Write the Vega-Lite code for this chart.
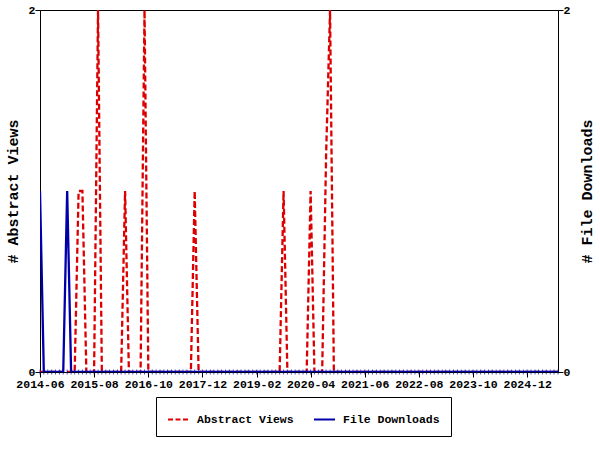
{
  "$schema": "https://vega.github.io/schema/vega-lite/v6.json",
  "width": 518,
  "height": 362,
  "autosize": "none",
  "padding": {"left": 40, "top": 10, "right": 42, "bottom": 78},
  "background": "white",
  "config": {
    "view": {"stroke": "black", "strokeWidth": 1},
    "axis": {
      "labelFont": "Liberation Mono", "labelFontWeight": "bold", "labelFontSize": 11.5, "labelColor": "black",
      "titleFont": "Liberation Mono", "titleFontWeight": "bold", "titleFontSize": 15, "titleColor": "black",
      "domainColor": "black", "tickColor": "black", "grid": false, "tickSize": 5, "labelPadding": 1
    },
    "legend": {
      "labelFont": "Liberation Mono", "labelFontWeight": "bold", "labelFontSize": 11.5, "labelColor": "black"
    }
  },
  "data": {"values": [
    {"month": "2014-06-01", "views": 0, "downloads": 1},
    {"month": "2014-07-01", "views": 0, "downloads": 0},
    {"month": "2014-08-01", "views": 0, "downloads": 0},
    {"month": "2014-09-01", "views": 0, "downloads": 0},
    {"month": "2014-10-01", "views": 0, "downloads": 0},
    {"month": "2014-11-01", "views": 0, "downloads": 0},
    {"month": "2014-12-01", "views": 0, "downloads": 0},
    {"month": "2015-01-01", "views": 0, "downloads": 1},
    {"month": "2015-02-01", "views": 0, "downloads": 0},
    {"month": "2015-03-01", "views": 0, "downloads": 0},
    {"month": "2015-04-01", "views": 1, "downloads": 0},
    {"month": "2015-05-01", "views": 1, "downloads": 0},
    {"month": "2015-06-01", "views": 0, "downloads": 0},
    {"month": "2015-07-01", "views": 0, "downloads": 0},
    {"month": "2015-08-01", "views": 0, "downloads": 0},
    {"month": "2015-09-01", "views": 2, "downloads": 0},
    {"month": "2015-10-01", "views": 0, "downloads": 0},
    {"month": "2015-11-01", "views": 0, "downloads": 0},
    {"month": "2015-12-01", "views": 0, "downloads": 0},
    {"month": "2016-01-01", "views": 0, "downloads": 0},
    {"month": "2016-02-01", "views": 0, "downloads": 0},
    {"month": "2016-03-01", "views": 0, "downloads": 0},
    {"month": "2016-04-01", "views": 1, "downloads": 0},
    {"month": "2016-05-01", "views": 0, "downloads": 0},
    {"month": "2016-06-01", "views": 0, "downloads": 0},
    {"month": "2016-07-01", "views": 0, "downloads": 0},
    {"month": "2016-08-01", "views": 0, "downloads": 0},
    {"month": "2016-09-01", "views": 2, "downloads": 0},
    {"month": "2016-10-01", "views": 0, "downloads": 0},
    {"month": "2016-11-01", "views": 0, "downloads": 0},
    {"month": "2016-12-01", "views": 0, "downloads": 0},
    {"month": "2017-01-01", "views": 0, "downloads": 0},
    {"month": "2017-02-01", "views": 0, "downloads": 0},
    {"month": "2017-03-01", "views": 0, "downloads": 0},
    {"month": "2017-04-01", "views": 0, "downloads": 0},
    {"month": "2017-05-01", "views": 0, "downloads": 0},
    {"month": "2017-06-01", "views": 0, "downloads": 0},
    {"month": "2017-07-01", "views": 0, "downloads": 0},
    {"month": "2017-08-01", "views": 0, "downloads": 0},
    {"month": "2017-09-01", "views": 0, "downloads": 0},
    {"month": "2017-10-01", "views": 1, "downloads": 0},
    {"month": "2017-11-01", "views": 0, "downloads": 0},
    {"month": "2017-12-01", "views": 0, "downloads": 0},
    {"month": "2018-01-01", "views": 0, "downloads": 0},
    {"month": "2018-02-01", "views": 0, "downloads": 0},
    {"month": "2018-03-01", "views": 0, "downloads": 0},
    {"month": "2018-04-01", "views": 0, "downloads": 0},
    {"month": "2018-05-01", "views": 0, "downloads": 0},
    {"month": "2018-06-01", "views": 0, "downloads": 0},
    {"month": "2018-07-01", "views": 0, "downloads": 0},
    {"month": "2018-08-01", "views": 0, "downloads": 0},
    {"month": "2018-09-01", "views": 0, "downloads": 0},
    {"month": "2018-10-01", "views": 0, "downloads": 0},
    {"month": "2018-11-01", "views": 0, "downloads": 0},
    {"month": "2018-12-01", "views": 0, "downloads": 0},
    {"month": "2019-01-01", "views": 0, "downloads": 0},
    {"month": "2019-02-01", "views": 0, "downloads": 0},
    {"month": "2019-03-01", "views": 0, "downloads": 0},
    {"month": "2019-04-01", "views": 0, "downloads": 0},
    {"month": "2019-05-01", "views": 0, "downloads": 0},
    {"month": "2019-06-01", "views": 0, "downloads": 0},
    {"month": "2019-07-01", "views": 0, "downloads": 0},
    {"month": "2019-08-01", "views": 0, "downloads": 0},
    {"month": "2019-09-01", "views": 1, "downloads": 0},
    {"month": "2019-10-01", "views": 0, "downloads": 0},
    {"month": "2019-11-01", "views": 0, "downloads": 0},
    {"month": "2019-12-01", "views": 0, "downloads": 0},
    {"month": "2020-01-01", "views": 0, "downloads": 0},
    {"month": "2020-02-01", "views": 0, "downloads": 0},
    {"month": "2020-03-01", "views": 0, "downloads": 0},
    {"month": "2020-04-01", "views": 1, "downloads": 0},
    {"month": "2020-05-01", "views": 0, "downloads": 0},
    {"month": "2020-06-01", "views": 0, "downloads": 0},
    {"month": "2020-07-01", "views": 0, "downloads": 0},
    {"month": "2020-08-01", "views": 1.2, "downloads": 0},
    {"month": "2020-09-01", "views": 2, "downloads": 0},
    {"month": "2020-10-01", "views": 0, "downloads": 0},
    {"month": "2020-11-01", "views": 0, "downloads": 0},
    {"month": "2020-12-01", "views": 0, "downloads": 0},
    {"month": "2021-01-01", "views": 0, "downloads": 0},
    {"month": "2021-02-01", "views": 0, "downloads": 0},
    {"month": "2021-03-01", "views": 0, "downloads": 0},
    {"month": "2021-04-01", "views": 0, "downloads": 0},
    {"month": "2021-05-01", "views": 0, "downloads": 0},
    {"month": "2021-06-01", "views": 0, "downloads": 0},
    {"month": "2021-07-01", "views": 0, "downloads": 0},
    {"month": "2021-08-01", "views": 0, "downloads": 0},
    {"month": "2021-09-01", "views": 0, "downloads": 0},
    {"month": "2021-10-01", "views": 0, "downloads": 0},
    {"month": "2021-11-01", "views": 0, "downloads": 0},
    {"month": "2021-12-01", "views": 0, "downloads": 0},
    {"month": "2022-01-01", "views": 0, "downloads": 0},
    {"month": "2022-02-01", "views": 0, "downloads": 0},
    {"month": "2022-03-01", "views": 0, "downloads": 0},
    {"month": "2022-04-01", "views": 0, "downloads": 0},
    {"month": "2022-05-01", "views": 0, "downloads": 0},
    {"month": "2022-06-01", "views": 0, "downloads": 0},
    {"month": "2022-07-01", "views": 0, "downloads": 0},
    {"month": "2022-08-01", "views": 0, "downloads": 0},
    {"month": "2022-09-01", "views": 0, "downloads": 0},
    {"month": "2022-10-01", "views": 0, "downloads": 0},
    {"month": "2022-11-01", "views": 0, "downloads": 0},
    {"month": "2022-12-01", "views": 0, "downloads": 0},
    {"month": "2023-01-01", "views": 0, "downloads": 0},
    {"month": "2023-02-01", "views": 0, "downloads": 0},
    {"month": "2023-03-01", "views": 0, "downloads": 0},
    {"month": "2023-04-01", "views": 0, "downloads": 0},
    {"month": "2023-05-01", "views": 0, "downloads": 0},
    {"month": "2023-06-01", "views": 0, "downloads": 0},
    {"month": "2023-07-01", "views": 0, "downloads": 0},
    {"month": "2023-08-01", "views": 0, "downloads": 0},
    {"month": "2023-09-01", "views": 0, "downloads": 0},
    {"month": "2023-10-01", "views": 0, "downloads": 0},
    {"month": "2023-11-01", "views": 0, "downloads": 0},
    {"month": "2023-12-01", "views": 0, "downloads": 0},
    {"month": "2024-01-01", "views": 0, "downloads": 0},
    {"month": "2024-02-01", "views": 0, "downloads": 0},
    {"month": "2024-03-01", "views": 0, "downloads": 0},
    {"month": "2024-04-01", "views": 0, "downloads": 0},
    {"month": "2024-05-01", "views": 0, "downloads": 0},
    {"month": "2024-06-01", "views": 0, "downloads": 0},
    {"month": "2024-07-01", "views": 0, "downloads": 0},
    {"month": "2024-08-01", "views": 0, "downloads": 0},
    {"month": "2024-09-01", "views": 0, "downloads": 0},
    {"month": "2024-10-01", "views": 0, "downloads": 0},
    {"month": "2024-11-01", "views": 0, "downloads": 0},
    {"month": "2024-12-01", "views": 0, "downloads": 0},
    {"month": "2025-01-01", "views": 0, "downloads": 0},
    {"month": "2025-02-01", "views": 0, "downloads": 0},
    {"month": "2025-03-01", "views": 0, "downloads": 0},
    {"month": "2025-04-01", "views": 0, "downloads": 0},
    {"month": "2025-05-01", "views": 0, "downloads": 0},
    {"month": "2025-06-01", "views": 0, "downloads": 0},
    {"month": "2025-07-01", "views": 0, "downloads": 0},
    {"month": "2025-08-01", "views": 0, "downloads": 0}
  ]},
  "encoding": {
    "x": {
      "field": "month", "type": "temporal",
      "scale": {"type": "utc", "domain": [
        {"year": 2014, "month": 6, "date": 1, "utc": true},
        {"year": 2025, "month": 8, "date": 1, "utc": true}
      ]},
      "axis": {
        "title": null, "labelExpr": "utcFormat(datum.value, '%Y-%m')", "labelFlush": false, "labelOverlap": false,
        "values": [
          {"year": 2014, "month": 6, "date": 1, "utc": true},
          {"year": 2015, "month": 8, "date": 1, "utc": true},
          {"year": 2016, "month": 10, "date": 1, "utc": true},
          {"year": 2017, "month": 12, "date": 1, "utc": true},
          {"year": 2019, "month": 2, "date": 1, "utc": true},
          {"year": 2020, "month": 4, "date": 1, "utc": true},
          {"year": 2021, "month": 6, "date": 1, "utc": true},
          {"year": 2022, "month": 8, "date": 1, "utc": true},
          {"year": 2023, "month": 10, "date": 1, "utc": true},
          {"year": 2024, "month": 12, "date": 1, "utc": true}
        ]
      }
    }
  },
  "layer": [
    {
      "mark": {"type": "line", "strokeDash": [6, 3], "strokeWidth": 2.3, "clip": true},
      "encoding": {
        "y": {
          "field": "views", "type": "quantitative",
          "scale": {"domain": [0, 2], "nice": false, "zero": true},
          "axis": {"orient": "left", "values": [0, 2], "format": "d", "title": "# Abstract Views", "titlePadding": 8, "labelPadding": 0}
        },
        "color": {
          "datum": "Abstract Views",
          "scale": {"domain": ["Abstract Views", "File Downloads"], "range": ["#dd0000", "#0000aa"]},
          "legend": {
            "title": null, "orient": "none", "legendX": 116, "legendY": 387, "direction": "horizontal",
            "symbolType": "stroke", "symbolSize": 441, "symbolStrokeWidth": 2,
            "strokeColor": "black", "padding": 11, "columnPadding": 16, "labelOffset": 7,
            "fillColor": "white",
            "encode": {"symbols": {"update": {"strokeDash": {"signal": "datum.value === 'Abstract Views' ? [5, 2.5] : [1, 0]"}}}}
          }
        }
      }
    },
    {
      "layer": [
        {
          "mark": {"type": "line", "strokeWidth": 2.3, "clip": true},
          "encoding": {
            "y": {
              "field": "downloads", "type": "quantitative",
              "scale": {"domain": [0, 2], "nice": false, "zero": true},
              "axis": {"orient": "right", "values": [0, 2], "format": "d", "title": "# File Downloads", "titleAngle": 270, "titlePadding": 25, "labelPadding": 0}
            },
            "color": {"datum": "File Downloads"}
          }
        },
        {
          "mark": {"type": "tick", "orient": "vertical", "size": 5, "thickness": 1, "color": "#0000aa"},
          "encoding": {"y": {"datum": 0}}
        }
      ]
    }
  ],
  "resolve": {"scale": {"y": "independent"}}
}
